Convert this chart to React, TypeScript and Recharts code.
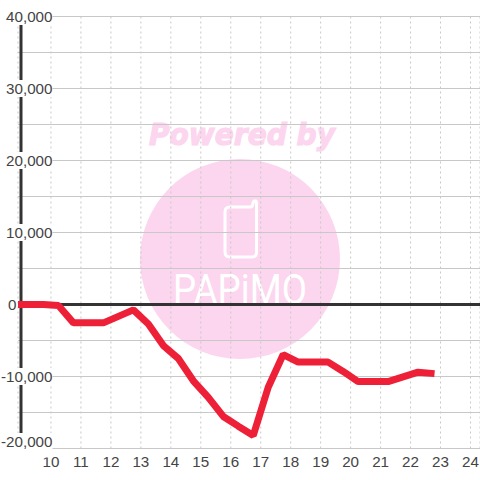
import { CartesianGrid, Line, LineChart, ReferenceLine, XAxis, YAxis } from 'recharts'

const hours = [8.9, 9.75, 10.25, 10.75, 11.75, 12.75, 13.25, 13.75, 14.25, 14.75, 15.25, 15.75, 16.25, 16.75, 17.25, 17.75, 18.25, 19.25, 19.75, 20.25, 21.25, 22.25, 22.8]
const balance = [0, 0, -150, -2550, -2550, -750, -2700, -5700, -7500, -10600, -12900, -15550, -16900, -18200, -11500, -6950, -8000, -8000, -9300, -10700, -10700, -9400, -9600]
const xTicks = [10, 11, 12, 13, 14, 15, 16, 17, 18, 19, 20, 21, 22, 23, 24]
const yTicks = [-20000, -15000, -10000, -5000, 0, 5000, 10000, 15000, 20000, 25000, 30000, 35000, 40000]

const data = hours.map((h, i) => ({ h, v: balance[i] }))

const FONT = 'Liberation Sans'
const PINK = '#fcd6ee'

function YTick({ y, payload }: any) {
  const v = payload.value
  if (v % 10000 !== 0) return null
  const label = v.toLocaleString('en-US')
  const right = v === 0 ? 16.5 : 52.5
  const w = v === 0 ? 9 : v < 0 ? 52 : 48
  // the bottom label sits above its gridline
  const cy = v === -20000 ? y - 7 : y
  return (
    <g>
      <rect x={right - w} y={cy - 8.5} width={w} height={v === -20000 ? 17 + 7.5 : 17} fill="#fff" />
      <text x={right} y={cy + 5} textAnchor="end" fontSize={15.2} fontFamily={FONT} fill="#444">{label}</text>
    </g>
  )
}

function XTick({ x, y, payload }: any) {
  return (
    <text x={x} y={y + 10} textAnchor="middle" fontSize={15.2} fontFamily={FONT} fill="#444">{payload.value}</text>
  )
}

function Watermark() {
  return (
    <svg width={480} height={480} style={{ position: 'absolute', left: 0, top: 0 }}>
      <circle cx={240} cy={259} r={100} fill={PINK} />
      <text x={242} y={145} textAnchor="middle" fontSize={30} fontWeight="bold" fontStyle="italic" fontFamily={'"DejaVu Sans", sans-serif'} fill={PINK} stroke={PINK} strokeWidth={1.2} textLength={186} lengthAdjust="spacingAndGlyphs">Powered by</text>
      <path d="M230 207 H250 Q253 207 253 203 Q254 200 256 201 Q256.500 201 256.500 204 V252 Q256.500 257 252 257 H230 Q225 257 225 252 V212 Q225 207 230 207 Z" fill="none" stroke="#fff" strokeWidth={3} />
      <text x={240} y={304} textAnchor="middle" fontSize={42} fontWeight={400} fontFamily={'Roboto, sans-serif'} fill="#fff" textLength={134} lengthAdjust="spacingAndGlyphs">PAPiMO</text>
    </svg>
  )
}

export default function App() {
  return (
    <div style={{ position: 'absolute', left: 0, top: 0, width: 480, height: 480, background: '#fff' }}>
      <Watermark />
      <div style={{ position: 'absolute', left: 0, top: 0 }}>
        <LineChart width={480} height={480} data={data} margin={{ top: 16.5, right: 0, bottom: 0, left: 0 }}>
          <CartesianGrid vertical={false} stroke="#c8c8c8" />
          <CartesianGrid horizontal={false} stroke="#c8c8c8" strokeDasharray="2 3" />
          <XAxis
            dataKey="h"
            type="number"
            domain={[9, 24.317]}
            ticks={xTicks}
            height={31.5}
            axisLine={false}
            tickLine={false}
            interval={0}
            tick={XTick}
          />
          <YAxis width={18} domain={[-20000, 40000]} ticks={yTicks} interval={0} axisLine={false} tickLine={false} tick={YTick} />
          <ReferenceLine x={9} stroke="#333" strokeWidth={3} />
          <ReferenceLine y={0} stroke="#333" strokeWidth={3} />
          <Line dataKey="v" stroke="#ee2038" strokeWidth={7} dot={false} strokeLinejoin="bevel" isAnimationActive={false} />
        </LineChart>
      </div>
    </div>
  )
}
